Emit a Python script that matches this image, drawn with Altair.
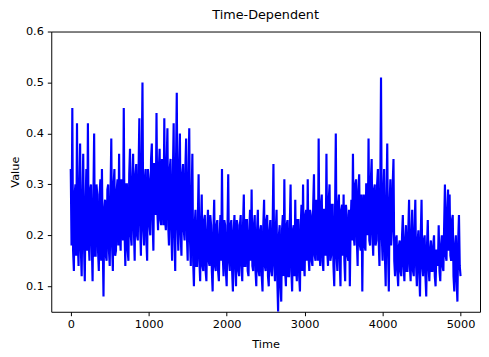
import altair as alt
import pandas as pd

# Values, one every 20 time units (t = 0 .. 5000)
values = [
    0.33, 0.45, 0.13, 0.30, 0.42, 0.14, 0.38, 0.12, 0.36, 0.11,
    0.33, 0.42, 0.15, 0.30, 0.11, 0.40, 0.16, 0.28, 0.13, 0.31,
    0.33, 0.08, 0.27, 0.15, 0.30, 0.14, 0.39, 0.13, 0.33, 0.17,
    0.31, 0.36, 0.17, 0.27, 0.45, 0.14, 0.30, 0.15, 0.37, 0.18,
    0.36, 0.15, 0.34, 0.19, 0.43, 0.16, 0.50, 0.18, 0.33, 0.15,
    0.31, 0.20, 0.38, 0.17, 0.34, 0.44, 0.21, 0.37, 0.22, 0.33,
    0.43, 0.21, 0.41, 0.18, 0.35, 0.15, 0.42, 0.13, 0.48, 0.17,
    0.40, 0.16, 0.34, 0.19, 0.39, 0.15, 0.41, 0.14, 0.36, 0.10,
    0.25, 0.14, 0.32, 0.11, 0.28, 0.13, 0.24, 0.11, 0.25, 0.14,
    0.22, 0.09, 0.27, 0.13, 0.23, 0.11, 0.24, 0.33, 0.12, 0.22,
    0.10, 0.32, 0.13, 0.23, 0.09, 0.24, 0.10, 0.22, 0.12, 0.24,
    0.11, 0.28, 0.14, 0.23, 0.12, 0.25, 0.29, 0.13, 0.24, 0.10,
    0.25, 0.12, 0.22, 0.09, 0.27, 0.13, 0.24, 0.10, 0.23, 0.12,
    0.34, 0.11, 0.25, 0.05, 0.22, 0.07, 0.24, 0.31, 0.10, 0.23,
    0.12, 0.30, 0.09, 0.22, 0.27, 0.11, 0.23, 0.09, 0.26, 0.30,
    0.12, 0.25, 0.31, 0.13, 0.24, 0.14, 0.32, 0.15, 0.26, 0.39,
    0.14, 0.28, 0.13, 0.25, 0.36, 0.14, 0.30, 0.16, 0.26, 0.10,
    0.40, 0.13, 0.28, 0.10, 0.26, 0.28, 0.11, 0.24, 0.15, 0.10,
    0.27, 0.36, 0.18, 0.31, 0.14, 0.32, 0.17, 0.09, 0.28, 0.17,
    0.30, 0.39, 0.18, 0.35, 0.16, 0.30, 0.19, 0.33, 0.14, 0.51,
    0.15, 0.33, 0.10, 0.38, 0.09, 0.31, 0.21, 0.35, 0.12, 0.20,
    0.10, 0.19, 0.12, 0.24, 0.11, 0.22, 0.13, 0.27, 0.11, 0.25,
    0.12, 0.27, 0.10, 0.21, 0.08, 0.27, 0.12, 0.20, 0.08, 0.23,
    0.11, 0.19, 0.13, 0.20, 0.10, 0.17, 0.22, 0.11, 0.20, 0.13,
    0.30, 0.15, 0.29, 0.28, 0.15, 0.24, 0.09, 0.20, 0.07, 0.24,
    0.12,
]

values_between = [
    0.18, 0.17, 0.28, 0.16, 0.19, 0.29, 0.17, 0.27, 0.18, 0.26,
    0.17, 0.19, 0.29, 0.18, 0.27, 0.16, 0.30, 0.17, 0.28, 0.15,
    0.19, 0.25, 0.16, 0.29, 0.17, 0.28, 0.18, 0.30, 0.16, 0.29,
    0.18, 0.20, 0.31, 0.19, 0.21, 0.30, 0.17, 0.32, 0.20, 0.31,
    0.21, 0.32, 0.20, 0.33, 0.22, 0.34, 0.21, 0.31, 0.19, 0.33,
    0.22, 0.35, 0.23, 0.34, 0.24, 0.25, 0.33, 0.23, 0.35, 0.22,
    0.23, 0.34, 0.22, 0.33, 0.21, 0.32, 0.20, 0.34, 0.22, 0.33,
    0.20, 0.32, 0.21, 0.33, 0.20, 0.31, 0.19, 0.27, 0.15, 0.22,
    0.14, 0.23, 0.15, 0.22, 0.14, 0.23, 0.13, 0.21, 0.15, 0.24,
    0.13, 0.21, 0.14, 0.22, 0.13, 0.20, 0.15, 0.16, 0.23, 0.13,
    0.21, 0.15, 0.22, 0.13, 0.21, 0.14, 0.23, 0.13, 0.22, 0.14,
    0.22, 0.14, 0.23, 0.13, 0.21, 0.15, 0.14, 0.22, 0.13, 0.21,
    0.13, 0.21, 0.12, 0.22, 0.14, 0.23, 0.12, 0.21, 0.13, 0.22,
    0.14, 0.21, 0.11, 0.20, 0.10, 0.21, 0.12, 0.13, 0.22, 0.12,
    0.22, 0.13, 0.21, 0.12, 0.14, 0.23, 0.12, 0.22, 0.13, 0.15,
    0.24, 0.15, 0.16, 0.25, 0.15, 0.26, 0.16, 0.27, 0.15, 0.17,
    0.26, 0.15, 0.25, 0.16, 0.17, 0.27, 0.15, 0.26, 0.14, 0.24,
    0.16, 0.26, 0.15, 0.25, 0.16, 0.15, 0.26, 0.16, 0.25, 0.22,
    0.19, 0.20, 0.30, 0.19, 0.29, 0.18, 0.28, 0.24, 0.18, 0.30,
    0.20, 0.19, 0.31, 0.20, 0.29, 0.18, 0.30, 0.19, 0.28, 0.20,
    0.28, 0.16, 0.27, 0.17, 0.26, 0.18, 0.30, 0.15, 0.19, 0.13,
    0.18, 0.13, 0.20, 0.14, 0.19, 0.13, 0.21, 0.14, 0.20, 0.13,
    0.21, 0.14, 0.19, 0.13, 0.20, 0.14, 0.19, 0.12, 0.18, 0.14,
    0.17, 0.13, 0.18, 0.12, 0.17, 0.14, 0.13, 0.18, 0.14, 0.22,
    0.16, 0.25, 0.17, 0.16, 0.23, 0.12, 0.18, 0.11, 0.19, 0.14,
]

times = list(range(0, 20 * len(values), 20))
times_between = list(range(10, 20 * len(values_between), 20))

x_ticks = [0, 1000, 2000, 3000, 4000, 5000]
y_ticks = [0.1, 0.2, 0.3, 0.4, 0.5, 0.6]

df = (
    pd.concat(
        [
            pd.DataFrame({"Time": times, "Value": values}),
            pd.DataFrame({"Time": times_between, "Value": values_between}),
        ]
    )
    .sort_values("Time")
    .reset_index(drop=True)
)

FONT = "DejaVu Sans"

chart = (
    alt.Chart(df)
    .mark_line(color="#0000ff", strokeWidth=2.2, clip=True)
    .encode(
        x=alt.X(
            "Time:Q",
            scale=alt.Scale(domain=[-250, 5250], nice=False, zero=False),
            axis=alt.Axis(values=x_ticks, format="d", title="Time"),
        ),
        y=alt.Y(
            "Value:Q",
            scale=alt.Scale(domain=[0.05, 0.6], nice=False, zero=False),
            axis=alt.Axis(values=y_ticks, format=".1f", title="Value"),
        ),
    )
    .properties(
        width=436,
        height=285,
        title=alt.TitleParams(
            "Time-Dependent", font=FONT, fontSize=13, fontWeight="normal",
            color="#000000", offset=4,
        ),
        autosize=alt.AutoSizeParams(type="none"),
        padding={"left": 44, "top": 21, "right": 1, "bottom": 40},
    )
    .configure_view(stroke="#000000", strokeWidth=1)
    .configure_axis(
        grid=False,
        domain=False,
        tickColor="#000000",
        tickSize=4,
        tickWidth=1,
        labelFont=FONT,
        labelFontSize=11.5,
        labelColor="#000000",
        labelPadding=3,
        titleFont=FONT,
        titleFontSize=11.5,
        titleFontWeight="normal",
        titleColor="#000000",
    )
    .configure_axisY(titlePadding=5, labelPadding=4)
    .configure_axisX(titlePadding=9)
)

chart.save("out.html", embed_options={"renderer": "svg", "actions": False})
